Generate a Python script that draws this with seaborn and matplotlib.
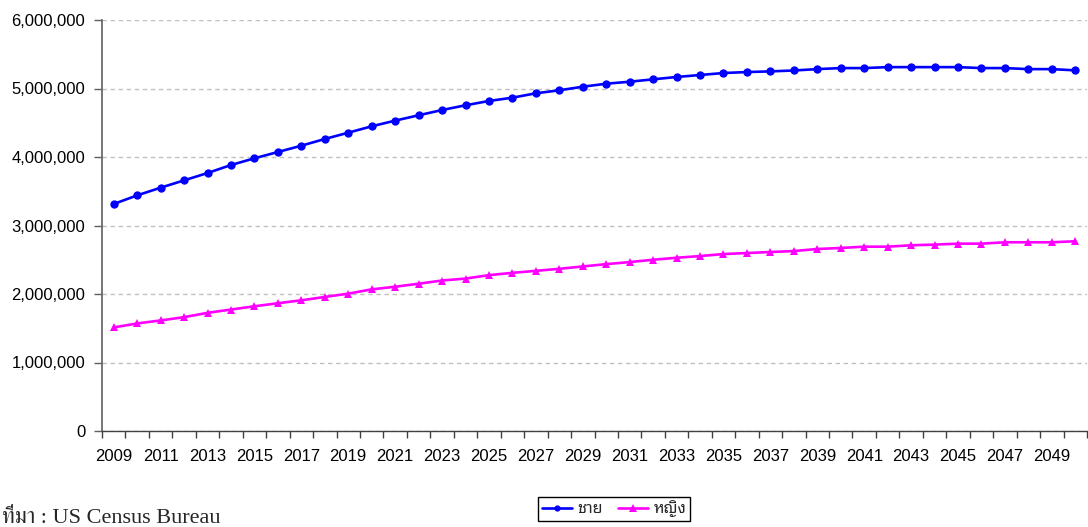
import matplotlib
matplotlib.use("Agg")
import matplotlib.pyplot as plt
from matplotlib import font_manager
from matplotlib.ticker import FixedLocator, FuncFormatter
import numpy as np
import pandas as pd
import seaborn as sns

# Projected population by sex, 2009-2050
years = list(range(2009, 2051))
male = [3314000, 3440000, 3552000, 3659000, 3766000, 3883000, 3981000, 4073000,
        4165000, 4263000, 4355000, 4448000, 4531000, 4609000, 4686000, 4755000,
        4818000, 4866000, 4930000, 4974000, 5026000, 5070000, 5099000, 5134000,
        5168000, 5197000, 5226000, 5240000, 5250000, 5263000, 5283000, 5298000,
        5298000, 5312000, 5312000, 5312000, 5312000, 5298000, 5298000, 5283000,
        5283000, 5265000]
female = [1512000, 1570000, 1614000, 1662000, 1725000, 1773000, 1821000, 1865000,
          1908000, 1957000, 2005000, 2068000, 2106000, 2150000, 2197000, 2225000,
          2275000, 2309000, 2338000, 2368000, 2402000, 2436000, 2466000, 2500000,
          2529000, 2554000, 2583000, 2598000, 2613000, 2627000, 2657000, 2672000,
          2691000, 2691000, 2711000, 2721000, 2735000, 2735000, 2755000, 2755000,
          2755000, 2770000]
series_names = ["ชาย", "หญิง"]
source_note = "ที่มา : US Census Bureau"

installed = {f.name for f in font_manager.fontManager.ttflist}


def first_installed(*candidates):
    for name in candidates:
        if name in installed:
            return name
    return "DejaVu Sans"


thai_sans = first_installed("Noto Sans Thai Looped", "IBM Plex Sans Thai Looped", "Noto Sans Thai", "Loma")
thai_serif = first_installed("FreeSerif", "Noto Serif Thai", "Sarabun", thai_sans)

sns.set_theme(style="white")
plt.rcParams["font.family"] = ["Liberation Sans", thai_sans, "DejaVu Sans"]

df = pd.DataFrame({
    "idx": list(range(len(years))) * 2,
    "value": male + female,
    "series": [series_names[0]] * len(years) + [series_names[1]] * len(years),
})

fig = plt.figure(figsize=(10.88, 5.27), dpi=100)
ax = fig.add_axes([102 / 1088, (527 - 431) / 527, (1087 - 102) / 1088, (431 - 20) / 527])

sns.lineplot(
    data=df, x="idx", y="value", hue="series", style="series",
    markers={series_names[0]: "o", series_names[1]: "^"},
    dashes=False, palette={series_names[0]: "#0000FF", series_names[1]: "#FF00FF"},
    linewidth=1.9, markersize=6, markeredgewidth=0, ax=ax, legend=False,
)

ax.set_xlim(-0.5, len(years) - 0.5)
ax.set_ylim(0, 6000000)
ax.set_xlabel("")
ax.set_ylabel("")

# y axis: dashed gridlines every million
ax.yaxis.set_major_locator(FixedLocator(np.arange(0, 6000001, 1000000)))
ax.yaxis.set_major_formatter(FuncFormatter(lambda v, p: f"{int(v):,}"))
ax.yaxis.grid(True, color="#c0c0c0", linestyle=(0, (3.2, 2.6)), linewidth=1.0)
ax.xaxis.grid(False)

# x axis: labels every other year, tick marks on category boundaries
ax.xaxis.set_major_locator(FixedLocator(np.arange(0, len(years), 2)))
ax.xaxis.set_major_formatter(FuncFormatter(lambda v, p: str(years[int(round(v))])))
ax.xaxis.set_minor_locator(FixedLocator(np.arange(-0.5, len(years), 1)))
ax.tick_params(axis="x", which="major", length=0, pad=13, labelsize=12, labelcolor="#000000")
ax.tick_params(axis="x", which="minor", length=5, width=1, color="#404040", direction="out", bottom=True)
ax.tick_params(axis="y", which="major", length=6, width=1, color="#606060", direction="out",
               left=True, pad=6, labelsize=12, labelcolor="#000000")

for side in ("top", "right"):
    ax.spines[side].set_visible(False)
ax.spines["left"].set_color("#606060")
ax.spines["left"].set_linewidth(1.2)
ax.spines["bottom"].set_color("#404040")
ax.spines["bottom"].set_linewidth(1.0)

handles = [
    plt.Line2D([], [], color="#0000FF", marker="o", markersize=4.5, linewidth=1.9, markeredgewidth=0),
    plt.Line2D([], [], color="#FF00FF", marker="^", markersize=5.5, linewidth=1.9, markeredgewidth=0),
]
leg = fig.legend(handles, series_names, loc="center", bbox_to_anchor=(614 / 1088, 1 - 509 / 527),
                 ncol=2, frameon=True, fancybox=False, edgecolor="#000000", framealpha=1,
                 handlelength=1.9, handletextpad=0.35, columnspacing=0.9, borderpad=0.25,
                 borderaxespad=0, prop={"family": [thai_sans, "DejaVu Sans"], "size": 11.5})
leg.get_frame().set_linewidth(1.0)

fig.text(2 / 1088, 1 - 523 / 527, source_note, ha="left", va="baseline", fontsize=16,
         family=["Liberation Serif", thai_serif, "DejaVu Serif"])

fig.savefig("out.png", dpi=100)
